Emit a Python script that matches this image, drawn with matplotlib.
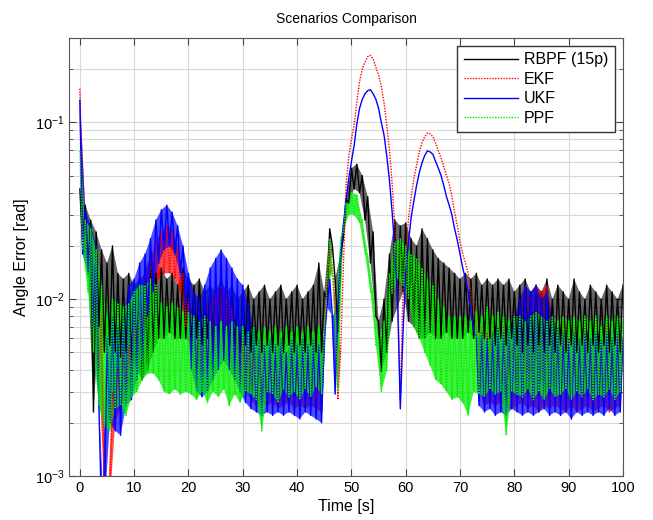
import matplotlib
matplotlib.use("Agg")
import matplotlib.pyplot as plt
import numpy as np

plt.rcParams['font.family'] = ['Liberation Sans', 'DejaVu Sans']

# values, in units of 1e-3 rad
# hi = spike tops at whole seconds, lo = troughs at half seconds
rbpf_hi = [42, 34, 28, 24, 19, 16, 20, 14, 13, 14,
           12, 13, 14, 18, 14, 15, 13, 14, 12, 15,
           13, 12, 13, 11, 12, 11, 13, 11, 12, 10,
           11, 12, 10, 11, 12, 10, 11, 12, 10, 11,
           12, 10, 11, 12, 16, 11, 25, 13, 18, 37,
           55, 58, 50, 38, 24, 7.5, 10, 18, 28, 26,
           27, 22, 20, 25, 22, 19, 17, 16, 15, 14,
           13, 14, 13, 14, 12, 13, 12, 13, 12, 13,
           11, 12, 13, 11, 12, 11, 13, 10, 12, 11,
           10, 13, 11, 10, 12, 11, 10, 12, 11, 10, 12]
rbpf_lo = [20, 15, 2.3, 7, 5, 5.5, 5, 4.7, 5, 4.5,
           4, 3.5, 4, 5, 6, 6, 6.5, 6, 6, 6,
           5.5, 6, 5.5, 6, 5.5, 6, 5.5, 5, 5.5, 5,
           5.5, 5, 5.5, 5, 5.5, 5, 5.5, 5, 5.5, 5,
           5.5, 5, 5.5, 5, 5, 10, 20, 6.5, 22, 35,
           42, 40, 28, 16, 8, 3.9, 5, 7.5, 9, 11,
           7.5, 7, 6, 6, 6.5, 6, 6, 6.5, 6, 6,
           6, 6.5, 6, 6.5, 6, 6, 5.5, 6, 5.5, 6,
           5.5, 5, 5.5, 5, 5.5, 5, 5.5, 5, 5.5, 5,
           5.5, 5, 5.5, 5, 5.5, 5, 5.5, 5, 5.5, 5]

ekf_hi = [155, 30, 24, 14, 8, 0.6, 3, 4, 5, 5.5,
          7, 9, 14, 17, 21, 24, 26, 25, 20, 14,
          10, 8, 7, 9, 10, 11, 12, 11, 9, 7,
          6, 5.5, 5, 6, 5, 5.5, 5, 6, 5, 5.5,
          5, 6, 5, 5.5, 5, 6, 20, 10, 5, 44,
          80, 130, 200, 235, 228, 185, 130, 70, 25, 2.7,
          18, 38, 57, 77, 87, 83, 69, 56, 45, 31,
          21, 16, 11, 7, 7, 6.5, 7, 6, 7, 6.5,
          8, 9, 12, 10, 12, 11, 12, 8, 7, 7.5,
          6, 7, 6, 7, 6, 6.5, 6, 7, 6, 6.5, 6]
ekf_lo = [20, 16, 8, 4, 0.8, 0.7, 2, 2.5, 2.8, 3.5,
          4.5, 6, 8, 11, 13, 14, 14, 13, 11, 7,
          5, 4, 3.5, 4, 4.5, 5, 5, 4.5, 4, 3.5,
          3, 2.7, 2.5, 2.6, 2.5, 2.6, 2.4, 2.5, 2.6, 2.4,
          2.5, 2.4, 2.5, 2.4, 2.3, 12, 15, 2.7, 15, 64,
          97, 170, 219, 239, 205, 160, 96, 45, 12, 11,
          28, 48, 68, 83, 86, 76, 63, 50, 38, 26,
          18, 14, 9, 3, 2.5, 2.6, 2.5, 2.6, 2.5, 2.4,
          2.5, 2.6, 2.4, 2.5, 2.3, 2.5, 2.4, 2.5, 2.4, 2.3,
          2.5, 2.3, 2.4, 2.5, 2.3, 2.4, 2.5, 2.3, 2.4, 2.5]

ukf_hi = [133, 32, 26, 20, 0.6, 6, 8, 7, 8, 12,
          13, 16, 18, 22, 28, 32, 34, 31, 26, 20,
          14, 11, 10, 12, 15, 17, 19, 17, 15, 13,
          12, 9.5, 7, 6, 5.5, 6, 5.5, 6, 5, 6,
          5.5, 6, 5.5, 6, 5.5, 6, 13, 2.9, 17, 36,
          60, 98, 135, 151, 145, 120, 85, 47, 19, 2.4,
          14, 29, 44, 59, 69, 66, 55, 44, 34, 25,
          18, 13, 8.5, 6, 6.5, 6, 6.5, 7, 6.5, 7,
          8, 10, 12, 11, 12, 10, 11, 8, 7, 6.5,
          6, 6.5, 6, 6.5, 6, 6.5, 6, 6.5, 6, 6.5, 6]
ukf_lo = [18, 14, 7, 2.5, 0.6, 2, 1.8, 1.7, 2.5, 2.7,
          3.5, 4.5, 8, 11, 16, 19, 20, 18, 14, 9,
          4, 3, 2.8, 3, 3.5, 4, 4.5, 4, 3.5, 3,
          2.6, 2.4, 2.3, 2.2, 2.3, 2.2, 2.3, 2.2, 2.3, 2.2,
          2.1, 2.3, 2.2, 2.1, 2.0, 9, 8, 9, 26, 48,
          74, 120, 145, 153, 135, 100, 65, 31, 10, 6.5,
          21, 36, 52, 65, 68, 60, 50, 38, 30, 21.5,
          15, 11, 6.7, 2.5, 2.3, 2.4, 2.2, 2.3, 2.2, 2.4,
          2.3, 2.2, 2.3, 2.2, 2.3, 2.4, 2.2, 2.3, 2.2, 2.3,
          2.1, 2.3, 2.2, 2.3, 2.2, 2.3, 2.2, 2.4, 2.2, 2.3]

ppf_hi = [69, 28, 25, 19, 12, 8, 10, 9.5, 9, 9.5,
          11, 12, 12, 13, 12, 9.5, 9, 9.5, 9, 8.5,
          8.5, 8, 7.5, 8, 7.5, 7, 7.5, 7, 7.5, 7,
          7, 6.5, 7, 6.5, 7, 6.5, 7, 6.5, 7, 6.5,
          7, 6.5, 7, 6.5, 7, 6, 22, 8, 22, 35,
          40, 39, 28, 18, 11, 6, 7.5, 14, 21, 22,
          20, 18, 17, 15, 13, 12, 10, 9, 8, 8,
          8, 8, 7.5, 8.5, 8, 9, 8, 8.5, 8, 7.5,
          8, 8, 7.5, 8, 8.5, 8, 7.5, 8, 7.5, 8,
          7.5, 8, 7.5, 8, 7.5, 8, 7, 8, 7.5, 8, 7.5]
ppf_lo = [19, 11, 5, 2.5, 1.9, 1.8, 2.4, 2.5, 2.2, 2.8,
          3, 3.5, 3.8, 3.8, 3.5, 3.0, 2.9, 3.1, 2.9, 3.0,
          2.9, 2.7, 3.0, 2.6, 3.0, 2.8, 3.1, 2.5, 2.9, 2.6,
          3.0, 2.9, 2.7, 1.8, 3.0, 2.9, 2.6, 3.1, 2.8, 3.0,
          2.7, 3.1, 2.8, 3.2, 2.9, 12, 14, 3, 24, 30,
          30, 27, 18, 11, 5.5, 3, 3.9, 10.8, 13, 12,
          10, 7, 6, 5, 4.2, 3.5, 3.3, 3, 2.7, 2.8,
          2.6, 2.2, 3.0, 2.9, 2.8, 3.1, 2.9, 3.0, 1.7, 3.0,
          2.9, 2.8, 3.1, 2.7, 3.0, 2.7, 3.1, 2.8, 2.9, 3.1,
          2.7, 3.0, 2.8, 3.1, 2.7, 2.9, 2.8, 3.1, 2.7, 3.0]

labels = ["RBPF (15p)", "EKF", "UKF", "PPF"]
colors = ['black', 'red', 'blue', '#00ee00']
dotted = (0, (1, 1))


def draw(ax, hi, lo, color, ls, smooth=None, alpha=0.7):
    hi = np.asarray(hi, float) * 1e-3
    lo = np.asarray(lo, float) * 1e-3
    th = np.arange(len(hi))
    tl = np.arange(len(lo)) + 0.5
    # whole-second tops interleaved with half-second troughs
    t = np.empty(len(hi) + len(lo))
    y = np.empty_like(t)
    t[0::2], t[1::2] = th, tl
    y[0::2], y[1::2] = hi, lo
    # shaded noise band between the tops and the troughs,
    # left out where the curve is smooth
    pieces = [(0, 200)] if smooth is None else [(0, smooth[0]), (smooth[1], 200)]
    for a, b in pieces:
        mh = (th >= a) & (th <= b)
        ml = (tl >= a) & (tl <= b)
        ax.fill(np.r_[th[mh], tl[ml][::-1]], np.r_[hi[mh], lo[ml][::-1]],
                color=color, alpha=alpha, lw=0)
    ax.semilogy(t, y, color=color, lw=1.0, ls=ls)


fig = plt.figure(figsize=(6.53, 5.2), dpi=100)
ax = fig.add_axes([0.1057, 0.0846, 0.8483, 0.8424])
ax.set_yscale('log')

draw(ax, rbpf_hi, rbpf_lo, colors[0], '-', alpha=0.6)
draw(ax, ekf_hi, ekf_lo, colors[1], dotted, smooth=(48.2, 72.8))
draw(ax, ukf_hi, ukf_lo, colors[2], '-', smooth=(47.8, 72.8))
draw(ax, ppf_hi, ppf_lo, colors[3], dotted, alpha=0.75)

ax.set_xlim(-2, 100)
ax.set_ylim(1e-3, 0.3)
ax.set_xticks(np.arange(0, 101, 10))
ax.grid(True, which='major', color='#d8d8d8', lw=0.8)
ax.grid(True, which='minor', axis='y', color='#d8d8d8', lw=0.8)
ax.set_axisbelow(True)
ax.tick_params(which='both', direction='in', top=True, right=True,
               labelsize=10.5, color='#444444')
ax.tick_params(which='major', length=5)
ax.tick_params(which='minor', length=3)
for s in ax.spines.values():
    s.set_color('#555555')

ax.set_title("Scenarios Comparison", fontsize=10, pad=11)
ax.set_xlabel("Time [s]", fontsize=11.5, labelpad=3)
ax.set_ylabel("Angle Error [rad]", fontsize=11.5)

handles = [plt.Line2D([], [], color=c, lw=1.0, ls=s)
           for c, s in zip(colors, ['-', dotted, '-', dotted])]
leg = ax.legend(handles, labels, loc='upper right', fontsize=11.5,
                handlelength=3.4, handletextpad=0.4, labelspacing=0.28,
                borderaxespad=0.5, fancybox=False, framealpha=1)
leg.get_frame().set_edgecolor('#333333')

fig.savefig("out.png", dpi=100)
